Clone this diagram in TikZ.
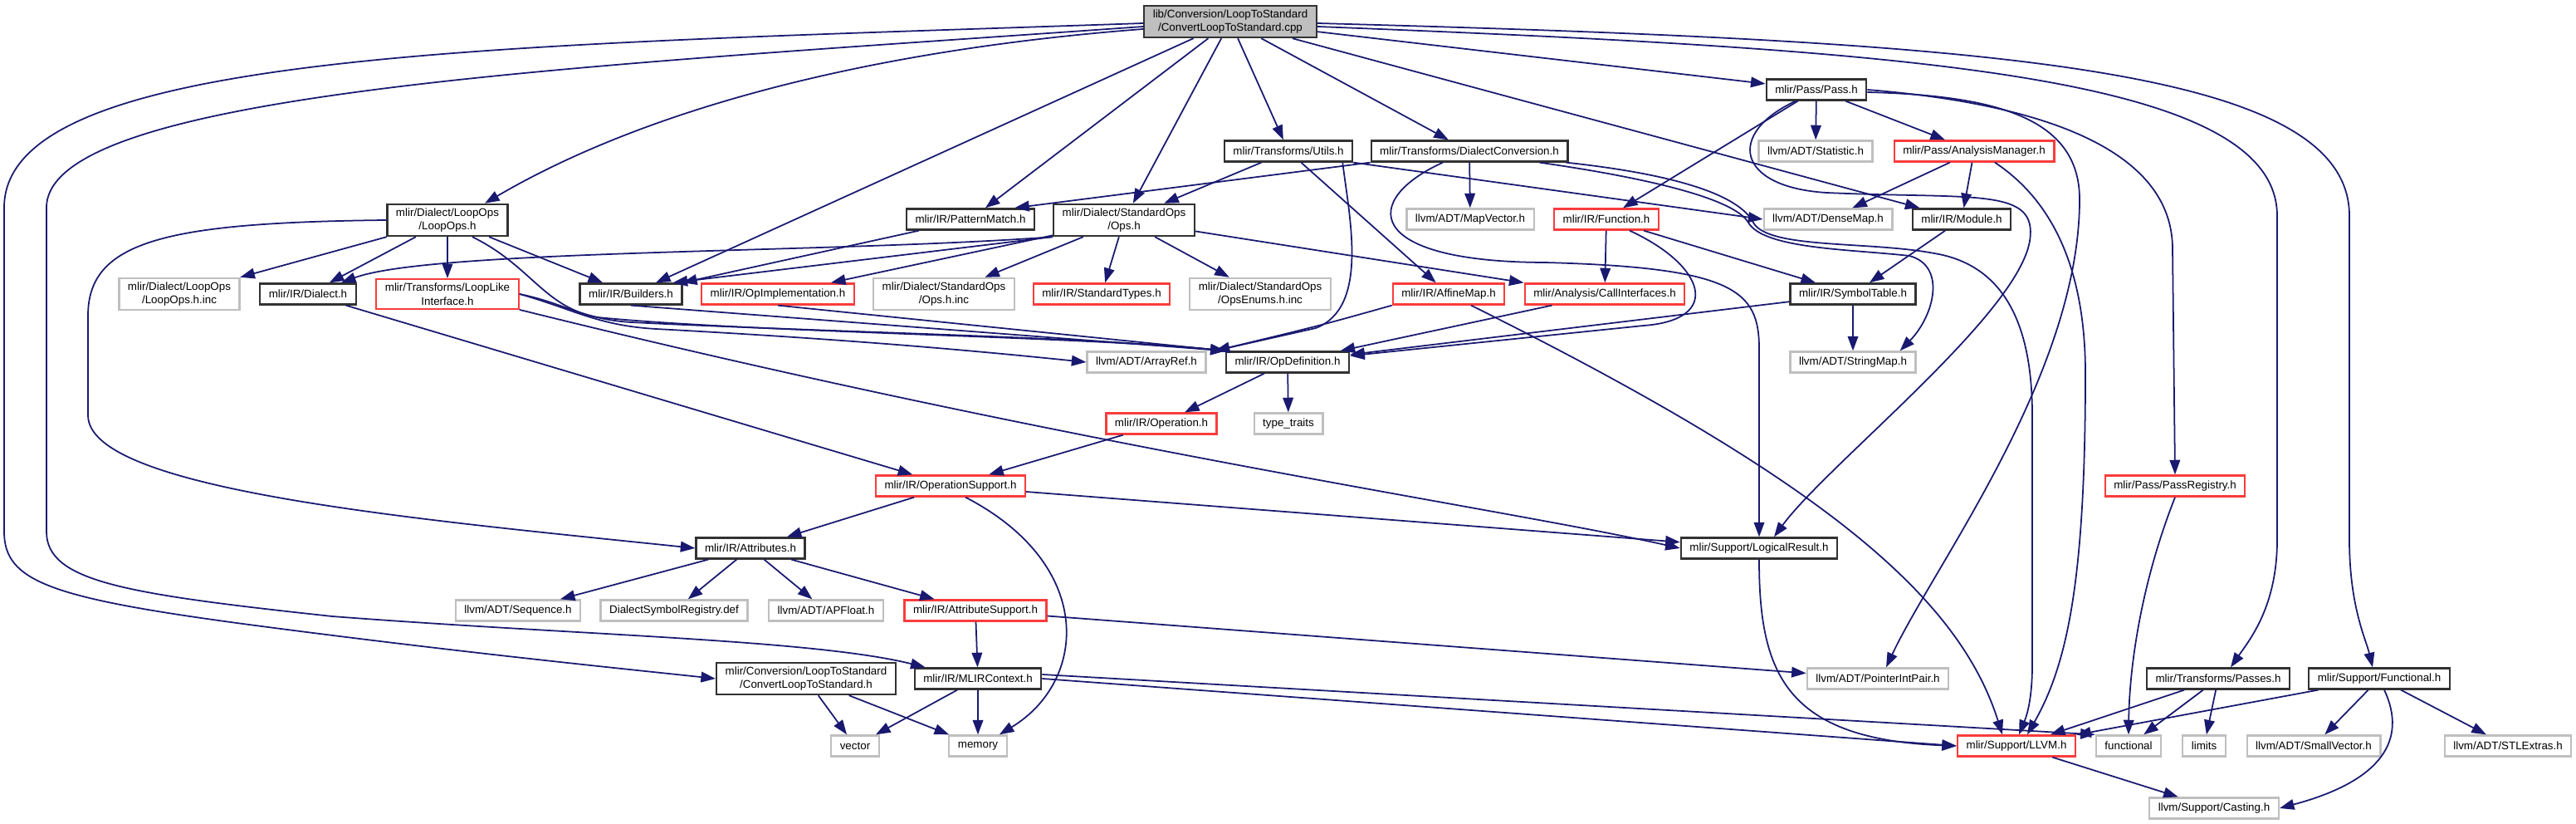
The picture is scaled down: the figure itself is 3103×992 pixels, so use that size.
\documentclass[tikz,border=0pt]{standalone}
\usepackage{fontspec}
\setmainfont{Liberation Sans}
\usetikzlibrary{arrows.meta, calc}
\definecolor{edgeblue}{RGB}{25,25,112}
\definecolor{extgray}{RGB}{191,191,191}
\definecolor{truncred}{RGB}{250,60,60}
\definecolor{docborder}{RGB}{50,50,50}

\begin{document}
\begin{tikzpicture}[x=0.01cm, y=-0.01cm, ->, >={Triangle[length=5pt,width=3.6pt]},
    every node/.style={font=\fontsize{3.8}{4.7}\selectfont, align=center,
      inner xsep=3pt, inner ysep=1.3pt, minimum height=0.25cm, line width=0.65pt},
    docfile/.style={draw=docborder},
    extfile/.style={draw=extgray},
    truncfile/.style={draw=truncred},
    srcfile/.style={draw=docborder, fill=extgray},
    every edge/.style={draw=edgeblue, line width=0.5pt},
    dep/.style={draw=edgeblue, line width=0.5pt}]
  \useasboundingbox (0,0) rectangle (3103,992);

  \node[srcfile] (root) at (1482,26) {lib/Conversion/LoopToStandard\\/ConvertLoopToStandard.cpp};
  \node[docfile] (pass) at (2188,108) {mlir/Pass/Pass.h};
  \node[docfile] (utils) at (1552,182) {mlir/Transforms/Utils.h};
  \node[docfile] (dialectconv) at (1770,182) {mlir/Transforms/DialectConversion.h};
  \node[extfile] (statistic) at (2187,182) {llvm/ADT/Statistic.h};
  \node[truncfile] (analysismgr) at (2378,182) {mlir/Pass/AnalysisManager.h};
  \node[docfile] (loopops) at (539,265) {mlir/Dialect/LoopOps\\/LoopOps.h};
  \node[docfile] (patternmatch) at (1169,264) {mlir/IR/PatternMatch.h};
  \node[docfile] (stdops) at (1354,265) {mlir/Dialect/StandardOps\\/Ops.h};
  \node[extfile] (mapvector) at (1771,264) {llvm/ADT/MapVector.h};
  \node[truncfile] (function) at (1935,264) {mlir/IR/Function.h};
  \node[extfile] (densemap) at (2202,264) {llvm/ADT/DenseMap.h};
  \node[docfile] (module) at (2363,264) {mlir/IR/Module.h};
  \node[extfile] (loopopsinc) at (216,354) {mlir/Dialect/LoopOps\\/LoopOps.h.inc};
  \node[docfile] (dialect) at (371,354) {mlir/IR/Dialect.h};
  \node[truncfile] (looplike) at (539,354) {mlir/Transforms/LoopLike\\Interface.h};
  \node[docfile] (builders) at (760,354) {mlir/IR/Builders.h};
  \node[truncfile] (opimpl) at (937,354) {mlir/IR/OpImplementation.h};
  \node[extfile] (opsinc) at (1137,354) {mlir/Dialect/StandardOps\\/Ops.h.inc};
  \node[truncfile] (stdtypes) at (1327,354) {mlir/IR/StandardTypes.h};
  \node[extfile] (opsenums) at (1518,354) {mlir/Dialect/StandardOps\\/OpsEnums.h.inc};
  \node[truncfile] (affinemap) at (1745,354) {mlir/IR/AffineMap.h};
  \node[truncfile] (callif) at (1933,354) {mlir/Analysis/CallInterfaces.h};
  \node[docfile] (symtab) at (2232,354) {mlir/IR/SymbolTable.h};
  \node[extfile] (arrayref) at (1381,436) {llvm/ADT/ArrayRef.h};
  \node[docfile] (opdef) at (1551,436) {mlir/IR/OpDefinition.h};
  \node[extfile] (stringmap) at (2232,436) {llvm/ADT/StringMap.h};
  \node[truncfile] (operation) at (1399,510) {mlir/IR/Operation.h};
  \node[extfile] (typetraits) at (1552,510) {type\_traits};
  \node[truncfile] (opsupport) at (1145,585) {mlir/IR/OperationSupport.h};
  \node[truncfile] (passreg) at (2620,585) {mlir/Pass/PassRegistry.h};
  \node[docfile] (attributes) at (904,660) {mlir/IR/Attributes.h};
  \node[docfile] (logicalres) at (2119,660) {mlir/Support/LogicalResult.h};
  \node[extfile] (sequence) at (624,735) {llvm/ADT/Sequence.h};
  \node[extfile] (dsregistry) at (812,735) {DialectSymbolRegistry.def};
  \node[extfile] (apfloat) at (995,735) {llvm/ADT/APFloat.h};
  \node[truncfile] (attrsupport) at (1175,735) {mlir/IR/AttributeSupport.h};
  \node[docfile] (convh) at (971,817) {mlir/Conversion/LoopToStandard\\/ConvertLoopToStandard.h};
  \node[docfile] (mlirctx) at (1178,817) {mlir/IR/MLIRContext.h};
  \node[extfile] (pointerint) at (2262,817) {llvm/ADT/PointerIntPair.h};
  \node[docfile] (passes) at (2672,817) {mlir/Transforms/Passes.h};
  \node[docfile] (functionalh) at (2866,817) {mlir/Support/Functional.h};
  \node[extfile] (vector) at (1030,898) {vector};
  \node[extfile] (memory) at (1178,898) {memory};
  \node[truncfile] (llvm) at (2429,898) {mlir/Support/LLVM.h};
  \node[extfile] (functional) at (2564,898) {functional};
  \node[extfile] (limits) at (2655,898) {limits};
  \node[extfile] (smallvector) at (2787,898) {llvm/ADT/SmallVector.h};
  \node[extfile] (stlextras) at (3021,898) {llvm/ADT/STLExtras.h};
  \node[extfile] (casting) at (2667,973) {llvm/Support/Casting.h};

  % straight includes
  \path (root) edge (patternmatch)
        (root) edge (stdops)
        (root) edge (utils)
        (root) edge (dialectconv)
        (root) edge (pass)
        (root) edge (builders)
        (root) edge (module)
        (pass) edge ($(function.north)+(20,0)$)
        (pass) edge (statistic)
        (pass) edge (analysismgr)
        (utils) edge (stdops)
        (utils) edge (affinemap)
        (utils.south east) edge (densemap.west)
        (dialectconv.south west) edge ($(patternmatch.north east)+(-25,0)$)
        (dialectconv) edge (mapvector)
        (analysismgr) edge (densemap)
        (analysismgr) edge (module)
        (loopops) edge (loopopsinc)
        (loopops) edge (dialect)
        (loopops) edge (looplike)
        (loopops) edge (builders)
        (patternmatch) edge (builders)
        (stdops.south west) edge ($(builders.north east)+(-12,0)$)
        (stdops) edge (opimpl)
        (stdops) edge (opsinc)
        (stdops) edge (stdtypes)
        (stdops) edge (opsenums)
        (stdops) edge (callif.north west)
        (function) edge (callif)
        (function) edge (symtab)
        (module) edge (symtab)
        (dialect) edge (opsupport)
        (builders.south) edge (opdef.north west)
        (opimpl.south) edge (opdef.north west)
        (callif) edge (opdef)
        (symtab) edge (opdef)
        (symtab) edge (stringmap)
        (opdef) edge (operation)
        (opdef) edge (typetraits)
        (operation) edge (opsupport)
        (opsupport) edge (attributes)
        (opsupport) edge (logicalres)
        (attributes) edge (sequence)
        (attributes) edge (dsregistry)
        (attributes) edge (apfloat)
        (attributes) edge (attrsupport)
        (attrsupport) edge (mlirctx)
        (attrsupport) edge (pointerint)
        (convh) edge (vector)
        (convh) edge (memory)
        (mlirctx) edge (vector)
        (mlirctx) edge (memory)
        (mlirctx.east) edge (llvm.west)
        ($(mlirctx.east)+(0,-5)$) edge (functional.north west)
        (passes) edge (llvm)
        (passes) edge (functional)
        (passes) edge (limits)
        (functionalh) edge (llvm)
        (functionalh) edge (smallvector)
        (functionalh) edge (stlextras)
        (llvm) edge (casting);

  % routed includes
  \draw[dep] ($(root.west)+(0,2)$) .. controls (600,55) and (5,60) .. (5,250) -- (5,640)
    .. controls (5,700) and (60,720) .. (300,752) .. controls (550,785) and (750,805) .. (convh.west);
  \draw[dep] ($(root.west)+(0,6)$) .. controls (700,80) and (56,110) .. (56,250) -- (56,640)
    .. controls (56,700) and (150,715) .. (400,742) .. controls (700,765) and (980,770) .. ($(mlirctx.north west)+(14,0)$);
  \draw[dep] ($(root.west)+(0,9)$) .. controls (1050,60) and (780,130) .. ($(loopops.north)+(45,0)$);
  \draw[dep] ($(root.east)+(0,2)$) .. controls (2400,50) and (2830,80) .. (2830,260) -- (2830,650)
    .. controls (2830,730) and (2850,770) .. ($(functionalh.north)+(-8,0)$);
  \draw[dep] ($(root.east)+(0,6)$) .. controls (2300,60) and (2743,90) .. (2743,260) -- (2743,650)
    .. controls (2743,730) and (2710,770) .. ($(passes.north)+(15,0)$);
  \draw[dep] (loopops.west) .. controls (200,268) and (106,290) .. (106,380) -- (106,500)
    .. controls (106,590) and (500,625) .. (attributes.west);
  \draw[dep] ($(loopops.south)+(30,0)$) .. controls (640,320) and (655,370) .. (720,382)
    .. controls (900,400) and (1300,405) .. (opdef.north west);
  \draw[dep] (looplike.east) .. controls (680,365) and (700,384) .. (760,388)
    .. controls (1000,400) and (1300,405) .. (opdef.north west);
  \draw[dep] (looplike.east) .. controls (690,372) and (720,392) .. (790,396)
    .. controls (1050,410) and (1200,425) .. (arrayref.west);
  \draw[dep] (looplike.south east) .. controls (1300,540) and (1800,610) .. (logicalres.west);
  \draw[dep] (stdops.south west) .. controls (1000,305) and (520,300) .. ($(dialect.north)+(40,0)$);
  \draw[dep] ($(utils.south east)+(-13,0)$) .. controls (1625,260) and (1650,370) .. (1585,395)
    -- ($(arrayref.north east)+(10,0)$);
  \draw[dep] (affinemap.south west) .. controls (1590,392) .. ($(arrayref.north east)+(10,0)$);
  \draw[dep] ($(affinemap.south)+(27,0)$) .. controls (2200,580) and (2360,720) .. ($(llvm.north)+(-17,0)$);
  \draw[dep] ($(function.south)+(28,0)$) .. controls (2055,320) and (2075,385) .. (1980,392)
    -- ($(opdef.north east)+(0,6)$);
  \draw[dep] ($(dialectconv.south)+(-32,0)$) .. controls (1640,240) and (1640,315) .. (1860,316)
    .. controls (2090,322) and (2119,350) .. (2119,420) -- (logicalres.north);
  \draw[dep] ($(dialectconv.south east)+(-35,0)$) .. controls (1990,215) and (2090,240) .. (2106,268)
    .. controls (2125,300) and (2230,300) .. (2300,308)
    .. controls (2345,320) and (2330,380) .. ($(stringmap.north east)+(-20,0)$);
  \draw[dep] ($(dialectconv.south east)+(-3,0)$) .. controls (2020,210) and (2095,235) .. (2112,268)
    .. controls (2130,300) and (2250,290) .. (2330,305)
    .. controls (2420,320) and (2448,400) .. (2448,500) -- (2448,800)
    .. controls (2448,840) and (2442,860) .. ($(llvm.north)+(3,0)$);
  \draw[dep] ($(pass.south)+(-25,0)$) .. controls (2080,160) and (2090,225) .. (2200,232)
    .. controls (2380,240) and (2455,225) .. (2445,290)
    .. controls (2430,380) and (2200,560) .. ($(logicalres.north)+(18,0)$);
  \draw[dep] ($(pass.east)+(0,3)$) .. controls (2400,115) and (2505,140) .. (2505,240)
    .. controls (2505,450) and (2330,680) .. ($(pointerint.north)+(10,0)$);
  \draw[dep] (pass.east) .. controls (2460,125) and (2617,180) .. (2617,300) -- (passreg.north);
  \draw[dep] ($(analysismgr.south)+(25,0)$) .. controls (2470,240) and (2512,320) .. (2512,450)
    .. controls (2512,700) and (2490,800) .. ($(llvm.north)+(13,0)$);
  \draw[dep] ($(opsupport.south)+(18,0)$) .. controls (1320,680) and (1310,820) .. ($(memory.north east)+(-10,0)$);
  \draw[dep] (logicalres.south) .. controls (2119,810) and (2150,890) .. (llvm.west);
  \draw[dep] (passreg.south) .. controls (2580,700) and (2565,800) .. (functional.north);
  \draw[dep] ($(functionalh.south)+(6,0)$) .. controls (2900,890) and (2870,940) .. (casting.east);
\end{tikzpicture}
\end{document}
